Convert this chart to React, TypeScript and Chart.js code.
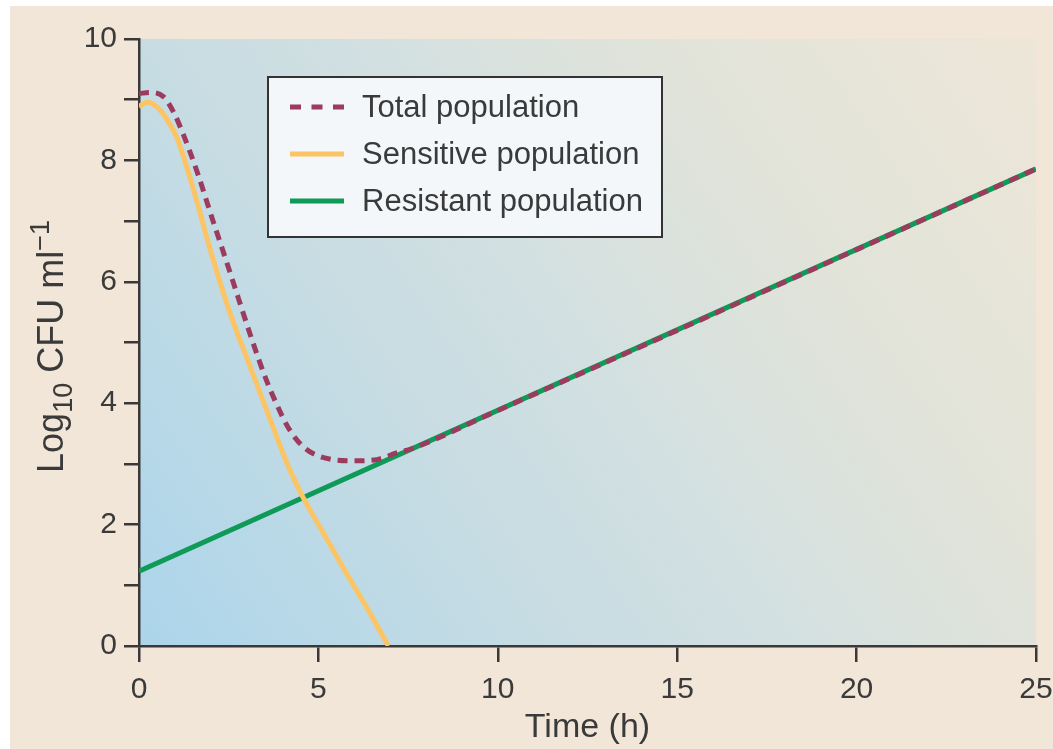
import { useEffect, useRef } from 'react';
import { Chart, registerables } from 'chart.js';

Chart.register(...registerables);

// ---- data ----
const timeTotal = [0, 0.3, 0.68, 0.96, 1.24, 1.65, 2.02, 2.39, 2.77, 3.14, 3.55, 3.84, 4.1, 4.35, 4.6, 4.85, 5.41, 6.02, 6.62, 7.18, 7.6, 10, 15, 20, 25];
const totalValues = [9.1, 9.12, 9.05, 8.8, 8.42, 7.76, 7.08, 6.42, 5.73, 5.06, 4.38, 3.98, 3.66, 3.43, 3.27, 3.17, 3.07, 3.05, 3.07, 3.18, 3.25, 3.88, 5.2, 6.53, 7.86];

const timeSensitive = [0, 0.25, 0.5, 0.75, 1.05, 1.3, 1.6, 2.0, 2.5, 3.02, 3.6, 4.16, 4.58, 5.2, 5.78, 6.4, 6.95];
const sensitiveValues = [8.89, 8.96, 8.88, 8.7, 8.38, 7.95, 7.35, 6.5, 5.55, 4.72, 3.82, 2.96, 2.44, 1.8, 1.2, 0.58, 0.0];

const timeResistant = [0, 25];
const resistantValues = [1.23, 7.86];

const seriesLabels = ['Total population', 'Sensitive population', 'Resistant population'];
const xTitle = 'Time (h)';
const yTitleParts = { main: 'Log', sub: '10', rest: ' CFU ml', sup: '\u22121' };

const COLORS = {
  total: '#9c3b5e',
  sensitive: '#fcc462',
  resistant: '#0f9a58',
  axis: '#3b3838',
  text: '#3a3a3a',
  page: '#f1e6d7',
};
const FONT = "'Liberation Sans', Arial, sans-serif";

const toPoints = (xs: number[], ys: number[]) => xs.map((x, i) => ({ x, y: ys[i] }));

const backgroundPlugin = {
  id: 'bgPlugin',
  beforeDraw(chart: any) {
    const { ctx, width, height, chartArea } = chart;
    ctx.save();
    ctx.fillStyle = '#ffffff';
    ctx.fillRect(0, 0, width, height);
    ctx.fillStyle = COLORS.page;
    ctx.fillRect(10, 6, width - 10, height - 6);
    const { left, right, top, bottom } = chartArea;
    const g = ctx.createLinearGradient(left, bottom, right, top);
    g.addColorStop(0, '#acd5eb');
    g.addColorStop(0.31, '#c6dce3');
    g.addColorStop(0.5, '#d3e0e1');
    g.addColorStop(0.69, '#e0e3da');
    g.addColorStop(1, '#ede6d8');
    ctx.fillStyle = g;
    ctx.fillRect(left, top, right - left, bottom - top);
    ctx.restore();
  },
};

const titlesPlugin = {
  id: 'titlesPlugin',
  afterDraw(chart: any) {
    const { ctx, chartArea } = chart;
    ctx.save();
    ctx.fillStyle = COLORS.text;
    // x title
    ctx.font = `34px ${FONT}`;
    ctx.textAlign = 'center';
    ctx.textBaseline = 'middle';
    ctx.fillText(xTitle, (chartArea.left + chartArea.right) / 2, 728);
    // y title with sub/superscript
    const big = `36px ${FONT}`;
    const small = `27px ${FONT}`;
    ctx.font = big;
    const w1 = ctx.measureText(yTitleParts.main).width;
    const w3 = ctx.measureText(yTitleParts.rest).width;
    ctx.font = small;
    const w2 = ctx.measureText(yTitleParts.sub).width;
    const w4 = ctx.measureText(yTitleParts.sup).width;
    const total = w1 + w2 + w3 + w4;
    ctx.translate(63, (chartArea.top + chartArea.bottom) / 2 + 4);
    ctx.rotate(-Math.PI / 2);
    ctx.textAlign = 'left';
    ctx.textBaseline = 'alphabetic';
    let u = -total / 2;
    ctx.font = big;
    ctx.fillText(yTitleParts.main, u, 0);
    u += w1;
    ctx.font = small;
    ctx.fillText(yTitleParts.sub, u, 9);
    u += w2;
    ctx.font = big;
    ctx.fillText(yTitleParts.rest, u, 0);
    u += w3;
    ctx.font = small;
    ctx.fillText(yTitleParts.sup, u, -14);
    ctx.restore();
  },
};

const legendPlugin = {
  id: 'boxLegend',
  afterDraw(chart: any) {
    const { ctx } = chart;
    const ds = chart.data.datasets;
    ctx.save();
    ctx.fillStyle = '#f3f7f9';
    ctx.fillRect(268, 77, 394, 160);
    ctx.strokeStyle = '#333333';
    ctx.lineWidth = 2;
    ctx.strokeRect(268, 77, 394, 160);
    const rows = [107, 154, 201];
    ds.forEach((d: any, i: number) => {
      const y = rows[i];
      ctx.beginPath();
      ctx.strokeStyle = d.borderColor;
      ctx.lineWidth = 5;
      ctx.lineCap = 'butt';
      ctx.setLineDash(d.borderDash && d.borderDash.length ? [11, 10.5] : []);
      ctx.moveTo(290, y);
      ctx.lineTo(344, y);
      ctx.stroke();
      ctx.setLineDash([]);
      ctx.fillStyle = COLORS.text;
      ctx.font = `31px ${FONT}`;
      ctx.textAlign = 'left';
      ctx.textBaseline = 'middle';
      ctx.fillText(d.label, 362, y + 1);
    });
    ctx.restore();
  },
};

export default function App() {
  const ref = useRef<HTMLCanvasElement | null>(null);
  useEffect(() => {
    if (!ref.current) return;
    const chart = new Chart(ref.current, {
      type: 'line',
      data: {
        datasets: [
          {
            label: seriesLabels[0],
            data: toPoints(timeTotal, totalValues),
            borderColor: COLORS.total,
            borderWidth: 5,
            borderDash: [10, 7],
            borderCapStyle: 'butt',
            pointRadius: 0,
            cubicInterpolationMode: 'monotone',
            order: 1,
          },
          {
            label: seriesLabels[1],
            data: toPoints(timeSensitive, sensitiveValues),
            borderColor: COLORS.sensitive,
            borderWidth: 5,
            pointRadius: 0,
            cubicInterpolationMode: 'monotone',
            order: 2,
          },
          {
            label: seriesLabels[2],
            data: toPoints(timeResistant, resistantValues),
            borderColor: COLORS.resistant,
            borderWidth: 5,
            pointRadius: 0,
            order: 3,
          },
        ],
      },
      options: {
        responsive: false,
        animation: false,
        devicePixelRatio: 1,
        layout: { padding: { top: 39, left: 0, right: 0, bottom: 0 } },
        plugins: { legend: { display: false }, tooltip: { enabled: false } },
        scales: {
          x: {
            type: 'linear',
            min: 0,
            max: 25,
            ticks: {
              stepSize: 5,
              color: COLORS.text,
              font: { size: 30, family: FONT },
              padding: 10,
              maxRotation: 0,
            },
            grid: { drawOnChartArea: false, drawTicks: true, tickLength: 16, color: COLORS.axis, lineWidth: 2.5 },
            border: { display: true, color: COLORS.axis, width: 2.5 },
            afterFit: (s: any) => { s.height = 103; s.paddingRight = 17; },
          },
          y: {
            type: 'linear',
            min: 0,
            max: 10,
            ticks: {
              stepSize: 1,
              color: COLORS.text,
              font: { size: 30, family: FONT },
              padding: 7,
              callback: (v: any) => (Number(v) % 2 === 0 ? String(v) : ''),
            },
            grid: { drawOnChartArea: false, drawTicks: true, tickLength: 15, color: COLORS.axis, lineWidth: 2.5 },
            border: { display: true, color: COLORS.axis, width: 2.5 },
            afterFit: (s: any) => { s.width = 139; },
          },
        },
      },
      plugins: [backgroundPlugin, titlesPlugin, legendPlugin],
    } as any);
    return () => chart.destroy();
  }, []);
  return (
    <canvas
      ref={ref}
      width={1053}
      height={749}
      style={{ position: 'absolute', left: 0, top: 0, width: 1053, height: 749, display: 'block' }}
    />
  );
}
